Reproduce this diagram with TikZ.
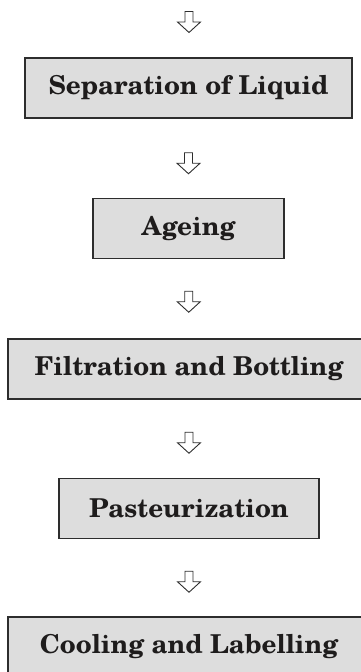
\documentclass[tikz,border=0pt]{standalone}
\usepackage{fontspec}
\setmainfont{texgyreschola}[Extension=.otf,UprightFont=*-regular,BoldFont=*-bold,ItalicFont=*-italic,BoldItalicFont=*-bolditalic]
\usetikzlibrary{calc}
\definecolor{boxfill}{RGB}{221,221,221}
\definecolor{boxline}{RGB}{45,45,45}
\definecolor{txt}{RGB}{30,28,28}
\tikzset{
  stepbox/.style={draw=boxline, line width=1.4pt, fill=boxfill, inner sep=0pt,
    minimum height=60pt, text=txt, font=\fontsize{26}{31}\selectfont\bfseries},
  hollow/.style={draw=boxline, line width=0.9pt, fill=white, line join=miter}
}
\newcommand\harrow[1]{%
  \draw[hollow] ($(#1)+(-4,-10.5)$) -- ($(#1)+(4,-10.5)$) -- ($(#1)+(4,0)$) -- ($(#1)+(11.5,0)$)
    -- ($(#1)+(0,10.5)$) -- ($(#1)+(-11.5,0)$) -- ($(#1)+(-4,0)$) -- cycle;}
\begin{document}
\begin{tikzpicture}[x=1pt,y=-1pt]
\useasboundingbox (0,0) rectangle (360,672);
\node[stepbox, minimum width=327pt] (b1) at (188.5,88) {Separation of Liquid};
\node[stepbox, minimum width=191pt] (b2) at (188.5,228.5) {Ageing};
\node[stepbox, minimum width=362pt] (b3) at (189,369) {Filtration and Bottling};
\node[stepbox, minimum width=260pt] (b4) at (189,508.5) {Pasteurization};
\node[stepbox, minimum width=362pt] (b5) at (189,647) {Cooling and Labelling};
\coordinate (a1) at (189,22);
\coordinate (a2) at ($(b1.south)!0.5!(b2.north)+(0,5)$);
\coordinate (a3) at ($(b2.south)!0.5!(b3.north)+(0,3)$);
\coordinate (a4) at ($(b3.south)!0.5!(b4.north)+(0,4)$);
\coordinate (a5) at ($(b4.south)!0.5!(b5.north)+(0,4)$);
\harrow{a1}
\harrow{a2}
\harrow{a3}
\harrow{a4}
\harrow{a5}
\end{tikzpicture}
\end{document}
